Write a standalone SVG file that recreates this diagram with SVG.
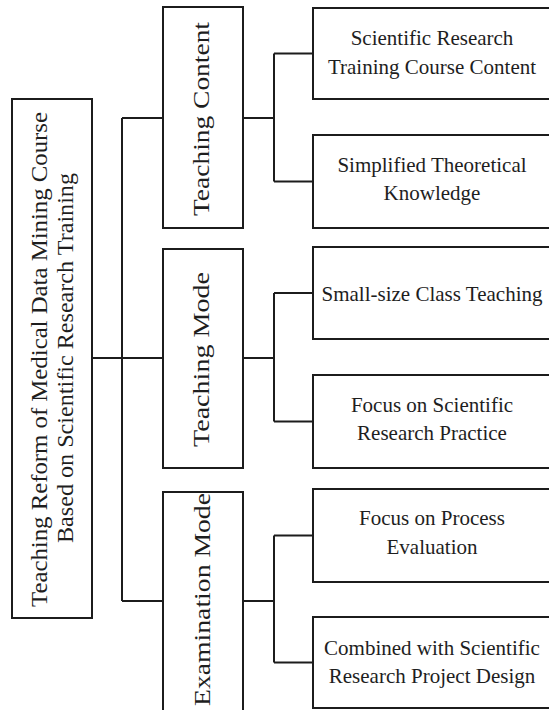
<svg xmlns="http://www.w3.org/2000/svg" width="549" height="710" viewBox="0 0 549 710">
<style>
.box{fill:#fff;stroke:#1c1c1c;stroke-width:2}
.con{fill:none;stroke:#1c1c1c;stroke-width:2}
.t{font-family:"Liberation Serif","Times New Roman",serif;fill:#1e1e1e;text-anchor:middle}
.r{font-size:21px}
.v{font-size:23.5px}
</style>
<rect width="549" height="710" fill="#fff"/>
<g id="connectors">
<path class="con" d="M92 358H163M122 118V601M122 118H163M122 601H163"/>
<path class="con" d="M243 118H274M274 53.5V181.5M274 53.5H313M274 181.5H313"/>
<path class="con" d="M243 358H274M274 293V421.5M274 293H313M274 421.5H313"/>
<path class="con" d="M243 601H274M274 535.5V662.5M274 535.5H313M274 662.5H313"/>
</g>
<g id="root">
<rect class="box" x="12" y="99" width="80" height="519"/>
<text class="t v" transform="translate(47,359.5) rotate(-90)" textLength="495" lengthAdjust="spacingAndGlyphs">Teaching Reform of Medical Data Mining Course</text>
<text class="t v" transform="translate(72.5,358) rotate(-90)" textLength="370" lengthAdjust="spacingAndGlyphs">Based on Scientific Research Training</text>
</g>
<g id="teaching-content">
<rect class="box" x="163" y="7" width="80" height="221"/>
<text class="t v" transform="translate(209,119) rotate(-90)" textLength="194" lengthAdjust="spacingAndGlyphs">Teaching Content</text>
</g>
<g id="teaching-mode">
<rect class="box" x="163" y="249" width="80" height="219"/>
<text class="t v" transform="translate(209,359.5) rotate(-90)" textLength="175" lengthAdjust="spacingAndGlyphs">Teaching Mode</text>
</g>
<g id="examination-mode">
<rect class="box" x="163" y="492" width="80" height="230"/>
<text class="t v" transform="translate(210,599.5) rotate(-90)" textLength="213" lengthAdjust="spacingAndGlyphs">Examination Mode</text>
</g>
<g id="course-content">
<rect class="box" x="313" y="8" width="250" height="91"/>
<text class="t r" x="432" y="45">Scientific Research</text>
<text class="t r" x="432" y="74">Training Course Content</text>
</g>
<g id="theoretical-knowledge">
<rect class="box" x="313" y="135" width="250" height="93"/>
<text class="t r" x="432" y="172">Simplified Theoretical</text>
<text class="t r" x="432" y="200">Knowledge</text>
</g>
<g id="small-class">
<rect class="box" x="313" y="247" width="250" height="92"/>
<text class="t r" x="432" y="301">Small-size Class Teaching</text>
</g>
<g id="research-practice">
<rect class="box" x="313" y="375" width="250" height="93"/>
<text class="t r" x="432" y="412">Focus on Scientific</text>
<text class="t r" x="432" y="440">Research Practice</text>
</g>
<g id="process-evaluation">
<rect class="box" x="313" y="489" width="250" height="93"/>
<text class="t r" x="432" y="525">Focus on Process</text>
<text class="t r" x="432" y="554">Evaluation</text>
</g>
<g id="project-design">
<rect class="box" x="313" y="617" width="250" height="91"/>
<text class="t r" x="432" y="655">Combined with Scientific</text>
<text class="t r" x="432" y="683">Research Project Design</text>
</g>
</svg>
